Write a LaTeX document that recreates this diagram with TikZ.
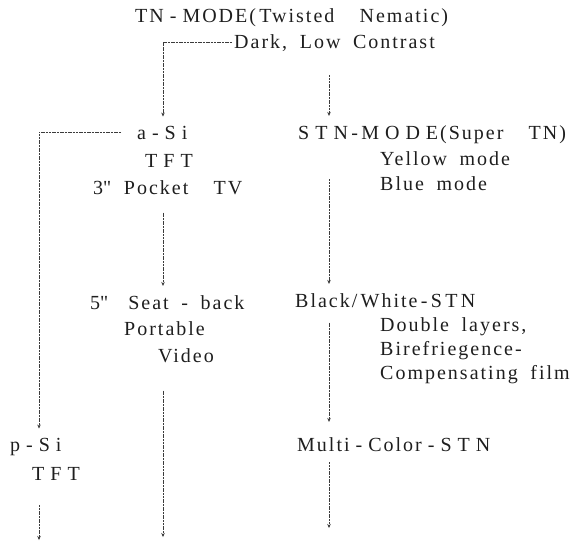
\documentclass[tikz,border=0pt]{standalone}
\usepackage{fontspec}
\setmainfont{Liberation Serif}[LetterSpace=10,WordSpace=1.8]
\usepackage{tikz}
\usetikzlibrary{arrows.meta}
\newcommand\tsp{\hspace{.3em}}
\definecolor{ink}{HTML}{1E1E1E}
\definecolor{rule}{HTML}{3C3C3C}
\tikzset{txt/.style={anchor=base west,inner sep=2pt,text=ink,font=\fontsize{20}{24}\selectfont},link/.style={draw=rule,line width=.5pt,dash pattern=on 2pt off .7pt},flow/.style={link,-{Stealth[length=4pt,width=3.5pt]},shorten >=7pt}}

\begin{document}
\begin{tikzpicture}[x=1pt,y=-1pt]
\useasboundingbox (0,0) rectangle (570,544);
\coordinate (colL) at (39,0);\coordinate (colM) at (163,0);\coordinate (colR) at (329,0);
\coordinate (endL) at (39,547);\coordinate (endM) at (163,544);\coordinate (endR) at (329,535);
\node[txt] (tn) at (133,22) {TN\tsp-\tsp MODE(\,Twisted\ \ Nematic)};
\node[txt] (dark) at (232,48) {Dark, Low Contrast};
\node[txt] (asi) at (135,139) {a\tsp-\tsp S\tsp i};
\node[txt] (tfta) at (143,167) {T\tsp F\tsp T};
\node[txt] (pocket) at (91,194) {3\textquotedbl\ Pocket\ \ TV};
\node[txt] (seat) at (88,309) {5\textquotedbl\hspace{20pt}Seat\ -\ back};
\node[txt] (portable) at (122,335) {Portable};
\node[txt] (video) at (156,362) {Video};
\node[txt] (psi) at (8,451) {p\tsp-\tsp S\tsp i};
\node[txt] (tftp) at (30,480) {T\tsp F\tsp T};
\node[txt] (stn) at (296,139) {S\tsp T\tsp N\,-\,M\tsp O\tsp D\tsp E(Super\ \ TN)};
\node[txt] (yellow) at (378,165) {Yellow mode};
\node[txt] (blue) at (378,190) {Blue mode};
\node[txt] (bw) at (293,307) {Black/\,White\,-\,S\,T\,N};
\node[txt] (double) at (378,331) {Double layers,};
\node[txt] (bire) at (378,355) {Birefriegence-};
\node[txt] (comp) at (378,379) {Compensating film};
\node[txt] (multi) at (295,451) {Multi\tsp-\tsp Color\tsp-\tsp S\tsp T\tsp N};
\draw[flow] (dark.west) -| (asi.north -| colM);
\draw[flow,shorten <=47pt] (tn.south -| colR) -- (stn.north -| colR);
\draw[flow,shorten <=14pt] (asi.west) -| (psi.north -| colL);
\draw[flow,shorten <=16pt] (pocket.south -| colM) -- (seat.north -| colM);
\draw[flow,shorten <=26pt] (video.south -| colM) -- (endM);
\draw[flow,shorten <=23pt] (tftp.south -| colL) -- (endL);
\draw[flow,shorten <=34pt] (stn.south -| colR) -- (bw.north -| colR);
\draw[flow,shorten <=13pt,shorten >=13pt] (bw.south -| colR) -- (multi.north -| colR);
\draw[flow,shorten <=9pt] (multi.south -| colR) -- (endR);
\end{tikzpicture}
\end{document}
